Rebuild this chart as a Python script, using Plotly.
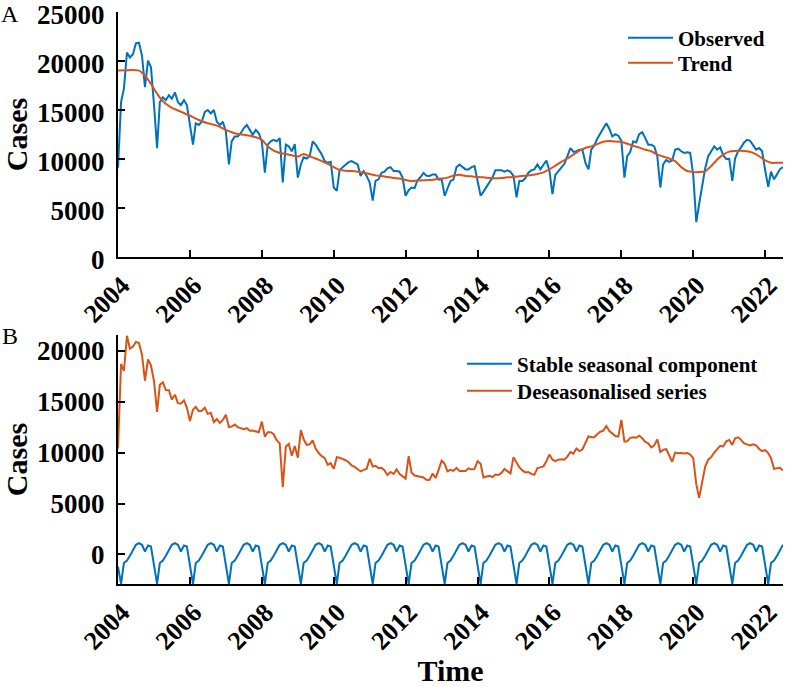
import pandas as pd
import plotly.graph_objects as go

# ---------------- DATA (monthly, Jan 2004 - Jul 2022) ----------------
months = pd.date_range("2004-01-01", "2022-07-01", freq="MS")

observed = [
    9100, 15800, 17170, 20870, 20360, 20700, 21800, 21870, 20530, 17340, 20030, 19350,   # 2004
    15500, 11100, 15800, 16300, 16000, 16500, 16150, 16800, 15800, 15500, 16000, 15500,  # 2005
    13470, 11460, 13640, 13470, 13800, 14800, 15000, 14650, 15000, 13800, 13470, 13800,  # 2006
    12800, 9440, 11800, 12300, 12300, 12630, 13140, 13470, 12970, 12470, 12970, 12630,   # 2007
    11800, 8600, 11460, 11800, 11960, 11800, 12130, 7600, 11460, 11290, 10790, 11520,    # 2008
    8100, 9440, 10180, 10050, 10280, 11790, 11460, 10950, 10450, 9780, 9610, 9710,       # 2009
    7090, 6750, 8840, 9170, 9440, 9680, 9780, 9610, 9440, 8270, 8770, 8270,              # 2010
    7600, 5750, 7760, 7930, 8600, 8700, 9040, 9170, 8770, 8770, 8700, 8100,              # 2011
    6250, 6820, 7090, 7020, 7830, 8160, 8570, 8300, 8270, 8430, 8430, 7900,              # 2012
    7930, 6250, 7020, 7760, 7900, 9170, 9440, 9170, 8940, 8940, 9170, 9270,              # 2013
    7830, 6250, 6650, 7160, 7590, 8100, 8840, 8840, 8840, 8700, 8840, 8700,              # 2014
    8270, 6080, 7760, 7760, 8030, 8600, 8840, 8940, 9440, 8940, 9440, 9850,              # 2015
    8840, 6420, 8370, 8770, 9170, 9510, 10280, 11120, 10720, 10790, 10950, 10950,        # 2016
    9610, 8940, 10950, 11390, 12060, 12630, 13200, 13640, 13070, 12300, 12530, 12380,    # 2017
    11860, 8100, 10280, 10740, 11800, 11690, 12530, 12730, 12130, 11460, 11460, 11290,   # 2018
    10280, 7090, 9440, 9910, 9710, 9850, 10950, 11050, 10790, 10620, 10680, 10620,       # 2019
    8370, 3560, 5410, 7160, 9040, 10280, 10850, 11290, 10950, 11190, 10380, 10010,       # 2020
    10010, 7760, 10050, 10790, 11190, 11690, 11960, 11860, 11390, 10950, 11120, 10790,   # 2021
    8840, 7160, 8700, 7930, 8430, 8970, 9170,                                            # 2022
]

trend_months = [
    "2004-01", "2004-08", "2004-10", "2004-12", "2005-02", "2005-04", "2005-07", "2005-10",
    "2006-01", "2006-04", "2006-07", "2006-10", "2007-01", "2007-04", "2007-07", "2007-10",
    "2008-01", "2008-03", "2008-05", "2008-07", "2008-09", "2008-11", "2009-01", "2009-03",
    "2009-05", "2009-07", "2009-09", "2009-11", "2010-01", "2010-03", "2010-05", "2010-07",
    "2010-09", "2010-11", "2011-01", "2011-03", "2011-05", "2011-07", "2011-09", "2011-11",
    "2012-01", "2012-03", "2012-05", "2012-07", "2012-09", "2012-11", "2013-01", "2013-03",
    "2013-05", "2013-07", "2013-09", "2013-11", "2014-01", "2014-03", "2014-05", "2014-07",
    "2014-09", "2014-11", "2015-01", "2015-03", "2015-05", "2015-07", "2015-09", "2015-11",
    "2016-01", "2016-03", "2016-05", "2016-07", "2016-09", "2016-11", "2017-01", "2017-03",
    "2017-05", "2017-07", "2017-09", "2017-11", "2018-01", "2018-03", "2018-05", "2018-07",
    "2018-09", "2018-11", "2019-01", "2019-03", "2019-05", "2019-07", "2019-09", "2019-11",
    "2020-01", "2020-03", "2020-05", "2020-07", "2020-09", "2020-11", "2021-01", "2021-03",
    "2021-05", "2021-07", "2021-09", "2021-11", "2022-01", "2022-03", "2022-05", "2022-07",
]
trend = [
    19020, 19020, 18510, 17670, 16670, 15890, 15220, 14820,
    14410, 13980, 13640, 13410, 12970, 12630, 12470, 12300,
    11960, 11290, 10850, 10620, 10500, 10380, 10250, 10520,
    10280, 10050, 9780, 9510, 9170, 8900, 8800, 8770,
    8700, 8600, 8470, 8330, 8270, 8160, 8060, 8000,
    7860, 7760, 7800, 7830, 7860, 7930, 8000, 8100,
    8300, 8400, 8270, 8230, 8160, 8130, 8060, 8030,
    8060, 8130, 8160, 8230, 8300, 8370, 8470, 8640,
    8940, 9310, 9710, 10050, 10450, 10850, 11120, 11290,
    11520, 11760, 11830, 11790, 11730, 11560, 11340, 11160,
    10950, 10790, 10450, 10250, 10050, 9780, 9170, 8770,
    8670, 8670, 8740, 9270, 9950, 10450, 10750, 10820,
    10850, 10790, 10620, 10280, 9850, 9610, 9610, 9610,
]

seasonal = [
    -1200, -2900, -850, -590, -130, 390, 950, 1120, 950, 290, 880, 780,   # 2004
    -1200, -2900, -850, -590, -130, 390, 950, 1120, 950, 290, 880, 780,   # 2005
    -1200, -2900, -850, -590, -130, 390, 950, 1120, 950, 290, 880, 780,   # 2006
    -1200, -2900, -850, -590, -130, 390, 950, 1120, 950, 290, 880, 780,   # 2007
    -1200, -2900, -850, -590, -130, 390, 950, 1120, 950, 290, 880, 780,   # 2008
    -1200, -2900, -850, -590, -130, 390, 950, 1120, 950, 290, 880, 780,   # 2009
    -1200, -2900, -850, -590, -130, 390, 950, 1120, 950, 290, 880, 780,   # 2010
    -1200, -2900, -850, -590, -130, 390, 950, 1120, 950, 290, 880, 780,   # 2011
    -1200, -2900, -850, -590, -130, 390, 950, 1120, 950, 290, 880, 780,   # 2012
    -1200, -2900, -850, -590, -130, 390, 950, 1120, 950, 290, 880, 780,   # 2013
    -1200, -2900, -850, -590, -130, 390, 950, 1120, 950, 290, 880, 780,   # 2014
    -1200, -2900, -850, -590, -130, 390, 950, 1120, 950, 290, 880, 780,   # 2015
    -1200, -2900, -850, -590, -130, 390, 950, 1120, 950, 290, 880, 780,   # 2016
    -1200, -2900, -850, -590, -130, 390, 950, 1120, 950, 290, 880, 780,   # 2017
    -1200, -2900, -850, -590, -130, 390, 950, 1120, 950, 290, 880, 780,   # 2018
    -1200, -2900, -850, -590, -130, 390, 950, 1120, 950, 290, 880, 780,   # 2019
    -1200, -2900, -850, -590, -130, 390, 950, 1120, 950, 290, 880, 780,   # 2020
    -1200, -2900, -850, -590, -130, 390, 950, 1120, 950, 290, 880, 780,   # 2021
    -1200, -2900, -850, -590, -130, 390, 950,                             # 2022
]

deseasonalised = [
    10400, 18700, 18020, 21460, 20200, 20400, 20850, 20750, 19580, 17050, 19150, 18570,  # 2004
    17000, 14000, 16650, 16890, 16130, 16110, 15200, 15680, 14850, 14800, 15120, 14400,  # 2005
    13100, 14200, 14490, 14060, 14100, 14410, 13800, 13900, 13000, 13300, 12900, 13200,  # 2006
    13700, 12500, 12550, 12750, 12500, 12400, 12300, 12390, 12150, 12160, 12060, 12000,  # 2007
    13040, 11570, 12000, 12000, 11800, 11200, 10900, 6600, 10590, 10850, 9700, 10650,    # 2008
    9500, 12200, 11300, 10750, 10800, 11200, 10400, 9950, 9650, 9450, 8790, 8960,        # 2009
    8400, 9550, 9500, 9400, 9250, 9050, 8750, 8600, 8350, 8150, 8300, 8400,              # 2010
    9400, 8630, 8700, 8470, 8500, 8250, 7800, 8100, 7900, 8350, 7900, 7700,              # 2011
    7450, 9650, 8050, 7750, 7700, 7600, 7550, 7300, 7320, 7950, 7500, 8300,              # 2012
    9200, 8900, 8150, 8300, 8200, 8500, 8200, 8200, 8200, 8450, 8350, 8400,              # 2013
    9150, 8900, 7550, 7650, 7710, 7600, 7850, 7800, 8000, 8400, 8150, 7950,              # 2014
    9550, 9050, 8560, 8250, 8050, 8100, 7910, 7810, 8470, 8550, 8650, 9150,              # 2015
    9800, 9300, 9150, 9300, 9350, 9300, 9600, 10050, 9900, 10400, 10150, 10300,          # 2016
    11000, 11600, 11500, 11500, 11800, 12050, 12150, 12600, 12120, 11900, 11630, 11570,  # 2017
    13200, 11080, 11100, 11450, 11500, 11450, 11650, 11400, 11050, 10900, 10500, 10700,  # 2018
    11300, 10050, 10260, 10350, 9800, 9100, 10000, 9930, 9950, 9900, 9950, 9800,         # 2019
    9450, 6900, 5550, 7100, 8600, 9300, 9550, 10000, 10300, 10650, 10600, 11100,         # 2020
    11240, 10750, 11400, 11500, 11250, 10900, 10800, 10700, 10800, 10700, 10350, 10150,  # 2021
    10250, 9950, 9450, 8400, 8450, 8500, 8230,                                           # 2022
]

year_ticks = ["2004-01-01", "2006-01-01", "2008-01-01", "2010-01-01", "2012-01-01",
              "2014-01-01", "2016-01-01", "2018-01-01", "2020-01-01", "2022-01-01"]
year_labels = ["2004", "2006", "2008", "2010", "2012", "2014", "2016", "2018", "2020", "2022"]
cases_ticks_a = [0, 5000, 10000, 15000, 20000, 25000]
cases_labels_a = ["0", "5000", "10000", "15000", "20000", "25000"]
cases_ticks_b = [0, 5000, 10000, 15000, 20000]
cases_labels_b = ["0", "5000", "10000", "15000", "20000"]

# ---------------- STYLE ----------------
BLUE = "#0072BD"
ORANGE = "#D95319"
SERIF = "Liberation Serif"
ytick_font = dict(family=SERIF, size=27, color="black", weight="bold")
xtick_font = dict(family=SERIF, size=26, color="black", weight="bold")
title_font = dict(family=SERIF, size=30, color="black", weight="bold")
legend_font = dict(family=SERIF, size=21, color="black", weight="bold")

fig = go.Figure()
fig.add_trace(go.Scatter(x=months, y=observed, name="Observed", mode="lines",
                         line=dict(color=BLUE, width=2), xaxis="x", yaxis="y", legend="legend"))
fig.add_trace(go.Scatter(x=trend_months, y=trend, name="Trend", mode="lines",
                         line=dict(color=ORANGE, width=2, shape="spline", smoothing=0.6),
                         xaxis="x", yaxis="y", legend="legend2"))
fig.add_trace(go.Scatter(x=months, y=seasonal, name="Stable seasonal component", mode="lines",
                         line=dict(color=BLUE, width=2), xaxis="x2", yaxis="y2", legend="legend3"))
fig.add_trace(go.Scatter(x=months, y=deseasonalised, name="Deseasonalised series", mode="lines",
                         line=dict(color=ORANGE, width=2), xaxis="x2", yaxis="y2", legend="legend4"))

L, R, T, B = 118, 3, 12, 103
W, H = 786, 687
PH = H - T - B
PW = W - L - R


def py(ypx):
    return (H - B - ypx) / PH


def px(xpx):
    return (xpx - L) / PW


common_x = dict(
    type="date", range=["2004-01-01", "2022-07-01"], tickvals=year_ticks, ticktext=year_labels,
    tickangle=-45, ticks="inside", ticklen=7, tickwidth=2, tickcolor="black",
    showline=True, linecolor="black", linewidth=2, showgrid=False, zeroline=False,
    tickfont=xtick_font, mirror=False, ticklabelstandoff=1, ticklabelshift=4,
    ticklabeloverflow="allow",
)
common_y = dict(
    ticks="inside", ticklen=7, tickwidth=2, tickcolor="black",
    showline=True, linecolor="black", linewidth=2, showgrid=False, zeroline=False,
    tickfont=ytick_font, ticklabelstandoff=6, ticklabeloverflow="allow",
)


def legend_at(xpx, ypx):
    return dict(x=px(xpx), y=py(ypx), xanchor="left", yanchor="middle", font=legend_font,
                bgcolor="rgba(0,0,0,0)", itemwidth=45, tracegroupgap=0)


fig.update_layout(
    width=W, height=H,
    showlegend=True,
    margin=dict(l=L, r=R, t=T, b=B, autoexpand=False),
    paper_bgcolor="white", plot_bgcolor="white",
    xaxis=dict(domain=[0, 1], anchor="y", **common_x),
    yaxis=dict(domain=[py(257), 1], anchor="x", range=[0, 25000], tickvals=cases_ticks_a,
               ticktext=cases_labels_a, ticklabelshift=3,
               title=dict(text="Cases", font=title_font, standoff=5), **common_y),
    xaxis2=dict(domain=[0, 1], anchor="y2",
                title=dict(text="Time", font=title_font, standoff=2), **common_x),
    yaxis2=dict(domain=[0, py(335)], anchor="x2", range=[-2900, 21540], tickvals=cases_ticks_b,
                ticktext=cases_labels_b,
                title=dict(text="Cases", font=title_font, standoff=5), **common_y),
    legend=legend_at(623, 38),
    legend2=legend_at(623, 63),
    legend3=legend_at(462, 364),
    legend4=legend_at(462, 391),
    annotations=[
        dict(text="A", x=px(10), y=py(14), xref="paper", yref="paper", showarrow=False,
             font=dict(family=SERIF, size=24, color="black"), xanchor="center", yanchor="middle"),
        dict(text="B", x=px(10), y=py(336), xref="paper", yref="paper", showarrow=False,
             font=dict(family=SERIF, size=24, color="black"), xanchor="center", yanchor="middle"),
    ],
)

fig.write_html("out.html", config={"displayModeBar": False},
               post_script="document.body.style.margin='0';")
